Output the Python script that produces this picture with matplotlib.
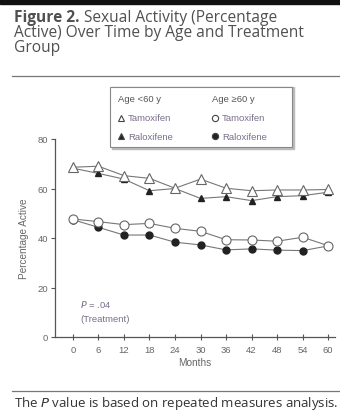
#!/usr/bin/env python3
"""Sexual activity (percentage active) over time by age and treatment group."""

import matplotlib
matplotlib.use("Agg")
import matplotlib.pyplot as plt
from matplotlib.lines import Line2D
from matplotlib.patches import Rectangle

W, H = 340, 414

months = [0, 6, 12, 18, 24, 30, 36, 42, 48, 54, 60]
tam_young = [68.6, 69.0, 65.2, 64.1, 60.1, 63.8, 60.1, 59.1, 59.4, 59.4, 59.6]
ral_young = [68.2, 66.1, 63.8, 59.1, 60.0, 56.0, 56.7, 55.1, 56.7, 57.1, 58.5]
tam_old = [47.7, 46.6, 45.4, 45.9, 43.9, 42.7, 39.3, 39.2, 38.7, 40.3, 36.9]
ral_old = [47.4, 44.3, 41.2, 41.2, 38.3, 37.2, 35.2, 35.6, 35.1, 34.9, 36.8]
y_ticks = [0, 20, 40, 60, 80]

GREY = "#666666"
TXT = "#555555"


def fx(x):
    return x / W


def fy(y):
    return 1 - y / H


def main():
    fig = plt.figure(figsize=(W / 100, H / 100), dpi=100)

    # header bar and caption
    fig.patches.append(Rectangle((0, fy(4.5)), 1, 4.5 / H, transform=fig.transFigure,
                                 color="#111111"))
    cap = dict(family="Open Sans", fontsize=11.2, color="#505050", va="center")
    t = fig.text(fx(14), fy(18), "Figure 2.", fontweight="bold", **cap)
    fig.canvas.draw()
    bb = t.get_window_extent()
    fig.text((bb.x1 + 4) / W, fy(18), "Sexual Activity (Percentage", **cap)
    fig.text(fx(14), fy(33), "Active) Over Time by Age and Treatment", **cap)
    fig.text(fx(14), fy(47.5), "Group", **cap)
    fig.add_artist(Line2D([fx(12), 1], [fy(77), fy(77)], color="#777777", lw=0.9))

    ax = fig.add_axes([fx(55), fy(338), fx(335) - fx(55), (338 - 140) / H])
    line_kw = dict(color="#777777", lw=0.8, clip_on=False, zorder=3)
    ax.plot(months, ral_young, marker="^", ms=5, mfc="#222222", mec="#222222", **line_kw)
    ax.plot(months, tam_young, marker="^", ms=6.5, mfc="white", mec="#666666", mew=0.8, **line_kw)
    ax.plot(months, ral_old, marker="o", ms=5, mfc="#222222", mec="#222222", **line_kw)
    ax.plot(months, tam_old, marker="o", ms=6.5, mfc="white", mec="#666666", mew=0.8, **line_kw)

    ax.set_xlim(-4.2, 61.6)
    ax.set_ylim(0, 80)
    ax.set_xticks(months)
    ax.set_yticks(y_ticks)
    for s in ("top", "right"):
        ax.spines[s].set_visible(False)
    for s in ("left", "bottom"):
        ax.spines[s].set_color("#555555")
        ax.spines[s].set_linewidth(0.9)
    ax.tick_params(axis="both", labelsize=6.8, labelcolor=GREY, color="#555555",
                   length=3, width=0.8, pad=2)
    ax.tick_params(axis="x", direction="inout", length=4, pad=4)
    for lab in ax.get_xticklabels() + ax.get_yticklabels():
        lab.set_family("Liberation Sans")
    ax.set_xlabel("Months", family="Liberation Sans", fontsize=7.2, color=GREY, labelpad=2)
    ax.set_ylabel("Percentage Active", family="Liberation Sans", fontsize=7.2, color=GREY,
                  labelpad=6)

    ax.text(0.09, 0.17, "$P$ = .04", transform=ax.transAxes, family="Liberation Sans",
            fontsize=6.8, color="#7a6f8a", va="center")
    ax.text(0.09, 0.095, "(Treatment)", transform=ax.transAxes, family="Liberation Sans",
            fontsize=6.8, color="#7a6f8a", va="center")

    # legend box
    fig.patches.append(Rectangle((fx(112), fy(150)), (292 - 110) / W, (150 - 88) / H,
                                 transform=fig.transFigure, color="#bbbbbb", zorder=5))
    fig.patches.append(Rectangle((fx(110), fy(148)), (292 - 110) / W, (148 - 88) / H,
                                 transform=fig.transFigure, fc="white", ec="#888888",
                                 lw=0.8, zorder=6))
    leg = dict(family="Liberation Sans", fontsize=6.8, va="center", zorder=7)
    fig.text(fx(118), fy(100), "Age <60 y", color=TXT, **leg)
    fig.text(fx(212), fy(100), "Age \u226560 y", color=TXT, **leg)
    rows = [(119, "^", "white", "Tamoxifen", "o"), (137, "^", "#222222", "Raloxifene", "o")]
    for y, m, fc, name, m2 in rows:
        fig.add_artist(Line2D([fx(121)], [fy(y)], marker=m, ms=4.5, mfc=fc, mec="#444444",
                              mew=0.8, zorder=7))
        fig.add_artist(Line2D([fx(215)], [fy(y)], marker=m2, ms=4.5, mfc=fc, mec="#444444",
                              mew=0.8, zorder=7))
        fig.text(fx(128), fy(y), name, color="#7a6f8a", **leg)
        fig.text(fx(222), fy(y), name, color="#7a6f8a", **leg)

    # footer
    fig.add_artist(Line2D([fx(12), 1], [fy(392), fy(392)], color="#777777", lw=0.9))
    fig.text(fx(14), fy(404), "The $P$ value is based on repeated measures analysis.",
             family="Open Sans", fontsize=9.5, color="#333333", va="center")

    fig.savefig("out.png", dpi=100)
    plt.close(fig)


if __name__ == "__main__":
    main()
